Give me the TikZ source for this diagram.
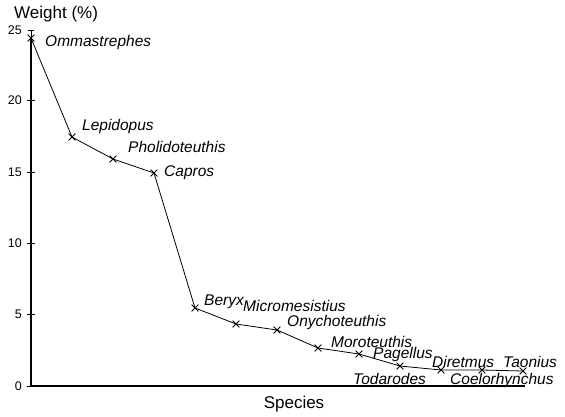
\documentclass[tikz,border=0pt]{standalone}
\usepackage{fontspec}
\setmainfont{Liberation Sans}
\usetikzlibrary{shapes.misc}
\begin{document}
\begin{tikzpicture}[x=1pt,y=-1pt,
  axisline/.style={line width=1.3pt},
  dataline/.style={line width=0.8pt},
  xmark/.style={cross out,draw,line width=0.8pt,minimum size=6pt,inner sep=0pt},
  species/.style={anchor=west,inner sep=0pt,font=\fontsize{15.5}{18}\selectfont\itshape},
  ticklabel/.style={anchor=east,inner sep=0pt,font=\fontsize{12.5}{14}\selectfont},
  axtitle/.style={inner sep=0pt,font=\fontsize{17}{20}\selectfont}]
\useasboundingbox (0,0) rectangle (565,416);
% axes
\coordinate (o) at (31,386);
\coordinate (ytop) at (31,38);
\coordinate (xend) at (525,386);
\draw[axisline] (ytop) -- (o) -- (xend);
% ticks
\foreach \v/\yy in {0/386,5/314.5,10/243,15/172,20/100.5}{
  \draw[line width=0.7pt] (27,\yy) -- (35,\yy);
  \node[ticklabel] (t\v) at (22,\yy) {\v};
}
\node[ticklabel] (t25) at (22,30) {25};
% error bar
\coordinate (eb) at (31,30);
\draw[line width=0.7pt] (28,30) -- (34,30);
\draw[line width=0.7pt] (eb) -- (ytop);
% data points
\coordinate (p1) at (31,38);
\coordinate (p2) at (72,137);
\coordinate (p3) at (113,159);
\coordinate (p4) at (154,173);
\coordinate (p5) at (195,308);
\coordinate (p6) at (236,324);
\coordinate (p7) at (277,330);
\coordinate (p8) at (318,348);
\coordinate (p9) at (359,354);
\coordinate (p10) at (400,366);
\coordinate (p11) at (441,370);
\coordinate (p12) at (482,370);
\coordinate (p13) at (523,371);
\draw[dataline] (p1) -- (p2) -- (p3) -- (p4) -- (p5) -- (p6) -- (p7) -- (p8) -- (p9) -- (p10) -- (p11) -- (p12) -- (p13);
\foreach \i in {1,...,13}{ \node[xmark] (m\i) at (p\i) {}; }
% labels
\node[species] (l1) at (45,42) {Ommastrephes};
\node[species] (l2) at (82,126) {Lepidopus};
\node[species] (l3) at (128,147) {Pholidoteuthis};
\node[species] (l4) at (164,173) {Capros};
\node[species] (l5) at (204,302) {Beryx};
\node[species] (l6) at (243,306) {Micromesistius};
\node[species] (l7) at (287,322) {Onychoteuthis};
\node[species] (l8) at (331,342) {Moroteuthis};
\node[species] (l9) at (373,354) {Pagellus};
\node[species] (l10) at (353,379) {Todarodes};
\node[species] (l11) at (432,362) {Diretmus};
\node[species] (l12) at (450,380) {Coelorhynchus};
\node[species] (l13) at (503,362) {Taonius};
% axis titles
\node[axtitle,anchor=west] (ytitle) at (14,14) {Weight (\%)};
\node[axtitle] (xtitle) at (294,404) {Species};
\end{tikzpicture}
\end{document}
